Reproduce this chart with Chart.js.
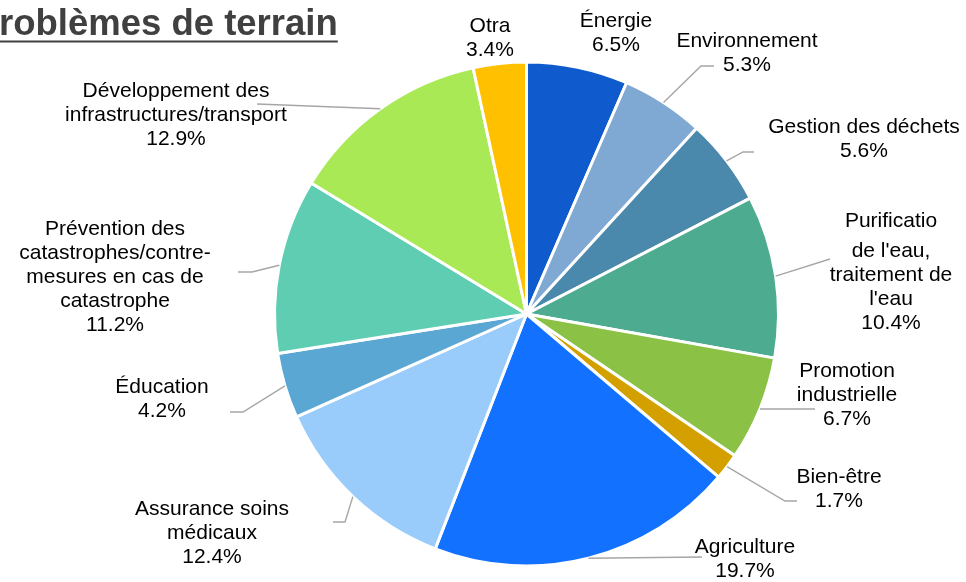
<!DOCTYPE html>
<html lang="fr">
<head>
  <meta charset="UTF-8">
  <title>Problèmes de terrain</title>
  <style>
    html, body {
      margin: 0;
      padding: 0;
      background: #fff;
    }
    #wrap {
      width: 966px;
      height: 582px;
      overflow: hidden;
    }
  </style>
</head>
<body>

  <div id="wrap">
    <canvas id="pie" width="966" height="582"></canvas>
  </div>

  <script src="https://cdn.jsdelivr.net/npm/chart.js"></script>
  <script>
    // Slices clockwise from 12 o'clock; each label is given as its text lines
    const categories = [
      ['Énergie'],
      ['Environnement'],
      ['Gestion des déchets'],
      ['Purificatio', "de l'eau,", 'traitement de', "l'eau"],
      ['Promotion', 'industrielle'],
      ['Bien-être'],
      ['Agriculture'],
      ['Assurance soins', 'médicaux'],
      ['Éducation'],
      ['Prévention des', 'catastrophes/contre-', 'mesures en cas de', 'catastrophe'],
      ['Développement des', 'infrastructures/transport'],
      ['Otra']
    ];
    const shares = [6.5, 5.3, 5.6, 10.4, 6.7, 1.7, 19.7, 12.4, 4.2, 11.2, 12.9, 3.4];

    const sliceColors = [
      '#0f5bcd', '#7fa8d3', '#4a89ac', '#4dab8f', '#8bc144', '#d4a000',
      '#1271fe', '#99cbfb', '#5aa7d3', '#5ecdb1', '#a9e955', '#ffc000'
    ];

    // label placement: [centre x, first baseline, extra gap after first line]
    const labelAnchors = [
      [616, 27, 0], [747, 47, 0], [864, 133, 0], [891, 227, 6],
      [847, 377, 0], [839, 483, 0], [745, 553, 0], [212, 515, 0],
      [162, 393, 0], [115, 235, 0], [176, 97, 0], [490, 32, 0]
    ];
    // leader line bends after leaving the slice edge (null = no leader)
    const leaderBends = [
      null,
      [[701, 66], [714, 66]],
      [[743, 152], [754, 152]],
      [[830, 259]],
      [[815, 409]],
      [[785, 501], [797, 501]],
      [[702, 557]],
      [[345, 522], [333, 522]],
      [[243, 412], [230, 412]],
      [[252, 272], [238, 272]],
      [[257, 104]],
      null
    ];

    const titleText = 'Problèmes de terrain';
    const labelFont = '21px "Liberation Sans", Arial, sans-serif';
    const lineHeight = 24;

    const titlePlugin = {
      id: 'clippedTitle',
      afterDraw(chart) {
        const ctx = chart.ctx;
        ctx.save();
        ctx.font = 'bold 36.5px "Liberation Sans", Arial, sans-serif';
        ctx.fillStyle = '#404040';
        ctx.textBaseline = 'alphabetic';
        const w = ctx.measureText(titleText).width;
        // the first letter falls off the left edge of the picture
        const x = -ctx.measureText('P').width - 1;
        ctx.fillText(titleText, x, 35);
        ctx.fillRect(x, 40.5, w, 2);
        ctx.restore();
      }
    };

    const outsideLabels = {
      id: 'outsideLabels',
      afterDatasetsDraw(chart) {
        const ctx = chart.ctx;
        const arcs = chart.getDatasetMeta(0).data;
        ctx.save();

        // leader lines
        ctx.strokeStyle = '#a6a6a6';
        ctx.lineWidth = 1.4;
        arcs.forEach((arc, i) => {
          const bends = leaderBends[i];
          if (!bends) return;
          const p = arc.getProps(['x', 'y', 'startAngle', 'endAngle', 'outerRadius'], true);
          const mid = (p.startAngle + p.endAngle) / 2;
          ctx.beginPath();
          ctx.moveTo(p.x + Math.cos(mid) * p.outerRadius, p.y + Math.sin(mid) * p.outerRadius);
          bends.forEach(b => ctx.lineTo(b[0], b[1]));
          ctx.stroke();
        });

        // label text: name lines then the percentage
        ctx.font = labelFont;
        ctx.fillStyle = '#000';
        ctx.textAlign = 'center';
        ctx.textBaseline = 'alphabetic';
        chart.data.labels.forEach((lines, i) => {
          const [cx, y0, extra] = labelAnchors[i];
          const value = chart.data.datasets[0].data[i];
          const all = lines.concat([value.toFixed(1) + '%']);
          all.forEach((txt, k) => {
            const y = y0 + k * lineHeight + (k > 0 ? extra : 0);
            ctx.fillText(txt, cx, y);
          });
        });
        ctx.restore();
      }
    };

    new Chart(document.getElementById('pie').getContext('2d'), {
      type: 'pie',
      data: {
        labels: categories,
        datasets: [{
          data: shares,
          backgroundColor: sliceColors,
          borderColor: '#ffffff',
          borderWidth: 3,
          radius: 252
        }]
      },
      options: {
        responsive: false,
        animation: false,
        devicePixelRatio: 1,
        layout: {
          padding: { left: 87, right: 0, top: 46, bottom: 0 }
        },
        plugins: {
          legend: { display: false },
          tooltip: { enabled: false },
          title: { display: false }
        }
      },
      plugins: [outsideLabels, titlePlugin]
    });
  </script>

</body>
</html>
